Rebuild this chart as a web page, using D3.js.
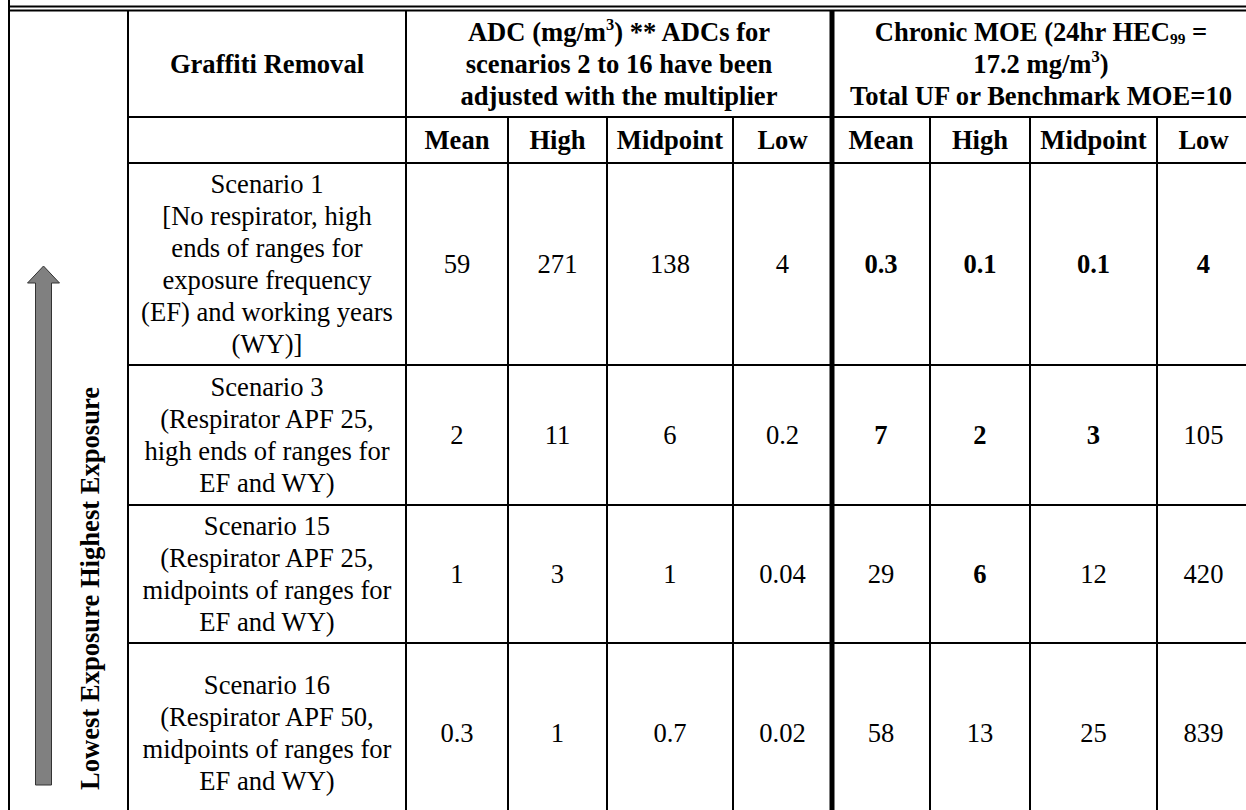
<!DOCTYPE html>
<html><head><meta charset="utf-8">
<script src="https://cdn.jsdelivr.net/npm/d3@7"></script>
<style>body{margin:0;background:#fff}svg{display:block}</style>
</head><body><svg id="c" width="1246" height="810"></svg>
<script>
// ---------- data ----------
const scenarios = ["Scenario 1", "Scenario 3", "Scenario 15", "Scenario 16"];
const scenarioDesc = [
  ["[No respirator, high", "ends of ranges for", "exposure frequency", "(EF) and working years", "(WY)]"],
  ["(Respirator APF 25,", "high ends of ranges for", "EF and WY)"],
  ["(Respirator APF 25,", "midpoints of ranges for", "EF and WY)"],
  ["(Respirator APF 50,", "midpoints of ranges for", "EF and WY)"]
];
const subHeaders = ["Mean", "High", "Midpoint", "Low"];
const adcMean = ["59", "2", "1", "0.3"];
const adcHigh = ["271", "11", "3", "1"];
const adcMid  = ["138", "6", "1", "0.7"];
const adcLow  = ["4", "0.2", "0.04", "0.02"];
const moeMean = ["0.3", "7", "29", "58"];
const moeHigh = ["0.1", "2", "6", "13"];
const moeMid  = ["0.1", "3", "12", "25"];
const moeLow  = ["4", "105", "420", "839"];
const moeMeanBold = [true, true, false, false];
const moeHighBold = [true, true, true, false];
const moeMidBold  = [true, true, false, false];
const moeLowBold  = [true, false, false, false];
const mainHeader = "Graffiti Removal";
const adcHeader = [[{t:"ADC (mg/m"},{t:"3",s:"sup"},{t:") ** ADCs for"}],[{t:"scenarios 2 to 16 have been"}],[{t:"adjusted with the multiplier"}]];
const moeHeader = [[{t:"Chronic MOE (24hr HEC"},{t:"99",s:"sub"},{t:" ="}],[{t:"17.2 mg/m"},{t:"3",s:"sup"},{t:")"}],[{t:"Total UF or Benchmark MOE=10"}]];
const arrowLabel = "Lowest Exposure Highest Exposure";

// ---------- layout ----------
const FS = 26.6, LH = 32;
const font = "'Liberation Serif','Times New Roman',serif";
const colKeys = ["desc","adcMean","adcHigh","adcMid","adcLow","moeMean","moeHigh","moeMid","moeLow","end"];
const x = d3.scaleOrdinal().domain(colKeys).range([128, 406, 508, 607, 733, 832, 930, 1030, 1157, 1250]);
const rowKeys = ["h1","h2","r0","r1","r2","r3","end"];
const y = d3.scaleOrdinal().domain(rowKeys).range([10.5, 117, 163, 365, 505, 643, 823]);
const nextCol = k => colKeys[colKeys.indexOf(k)+1];
const nextRow = k => rowKeys[rowKeys.indexOf(k)+1];

const svg = d3.select("#c").attr("font-family", font);
const W = 1250;

function block(g, cx, cy, lines, bold) {
  const n = lines.length;
  const t = g.append("text").attr("text-anchor","middle").attr("font-size",FS)
    .attr("font-weight", bold ? "bold" : "normal").attr("fill","#000");
  const y0 = cy - n*LH/2 + LH/2 + FS*0.33;
  lines.forEach((ln, i) => {
    const segs = typeof ln === "string" ? [{t:ln}] : ln;
    segs.forEach((s, j) => {
      const ts = t.append("tspan").text(s.t);
      if (j === 0) ts.attr("x", cx).attr("y", y0 + i*LH);
      if (s.s === "sup") ts.attr("font-size", FS*0.62).attr("dy", -FS*0.38);
      if (s.s === "sub") ts.attr("font-size", FS*0.58).attr("dy", FS*0.12);
      if (j > 0 && segs[j-1].s === "sup") ts.attr("dy", FS*0.38);
      if (j > 0 && segs[j-1].s === "sub") ts.attr("dy", -FS*0.12);
    });
  });
}
const cxOf = (a,b) => (x(a)+x(b))/2;
const cyOf = r => (y(r)+y(nextRow(r)))/2;

// headers
block(svg, cxOf("desc","adcMean"), cyOf("h1"), [mainHeader], true);
block(svg, cxOf("adcMean","moeMean"), cyOf("h1"), adcHeader, true);
block(svg, cxOf("moeMean","end"), cyOf("h1"), moeHeader, true);
const subCols = ["adcMean","adcHigh","adcMid","adcLow","moeMean","moeHigh","moeMid","moeLow"];
subCols.forEach((k,i) => block(svg, cxOf(k,nextCol(k)), cyOf("h2"), [subHeaders[i%4]], true));

// body
const cols = {adcMean, adcHigh, adcMid, adcLow, moeMean, moeHigh, moeMid, moeLow};
const bolds = {moeMean: moeMeanBold, moeHigh: moeHighBold, moeMid: moeMidBold, moeLow: moeLowBold};
scenarios.forEach((sc, i) => {
  const r = "r"+i;
  block(svg, cxOf("desc","adcMean"), cyOf(r), [sc].concat(scenarioDesc[i]), false);
  subCols.forEach(k => {
    block(svg, cxOf(k,nextCol(k)), cyOf(r), [cols[k][i]], bolds[k] ? bolds[k][i] : false);
  });
});

// grid lines
const L = svg.append("g").attr("stroke","#000").attr("stroke-width",2).attr("fill","none");
L.append("line").attr("x1",8).attr("x2",W).attr("y1",6.5).attr("y2",6.5);
L.append("line").attr("x1",8).attr("x2",W).attr("y1",y("h1")).attr("y2",y("h1"));
["h2","r0","r1","r2","r3"].forEach(r => L.append("line").attr("x1",x("desc")).attr("x2",W).attr("y1",y(r)).attr("y2",y(r)));
L.append("line").attr("x1",9).attr("x2",9).attr("y1",0).attr("y2",823);
["desc","adcMean","end"].forEach(k => L.append("line").attr("x1",x(k)).attr("x2",x(k)).attr("y1",y("h1")).attr("y2",y("end")));
["adcHigh","adcMid","adcLow","moeHigh","moeMid","moeLow"].forEach(k => L.append("line").attr("x1",x(k)).attr("x2",x(k)).attr("y1",y("h2")).attr("y2",y("end")));
L.append("line").attr("x1",x("moeMean")).attr("x2",x("moeMean")).attr("y1",y("h1")).attr("y2",y("end")).attr("stroke-width",5);

// arrow
const ax = 43.5, tipY = 266, headY = 283, botY = 785, hw = 16, sw = 8;
svg.append("path")
  .attr("d", `M${ax},${tipY} L${ax+hw},${headY} L${ax+sw},${headY} L${ax+sw},${botY} L${ax-sw},${botY} L${ax-sw},${headY} L${ax-hw},${headY} Z`)
  .attr("fill","#808080").attr("stroke","#333").attr("stroke-width",1);
svg.append("text").attr("transform","translate(99,790) rotate(-90)")
  .attr("font-size",FS).attr("font-weight","bold").attr("text-anchor","start").text(arrowLabel);
</script></body></html>
